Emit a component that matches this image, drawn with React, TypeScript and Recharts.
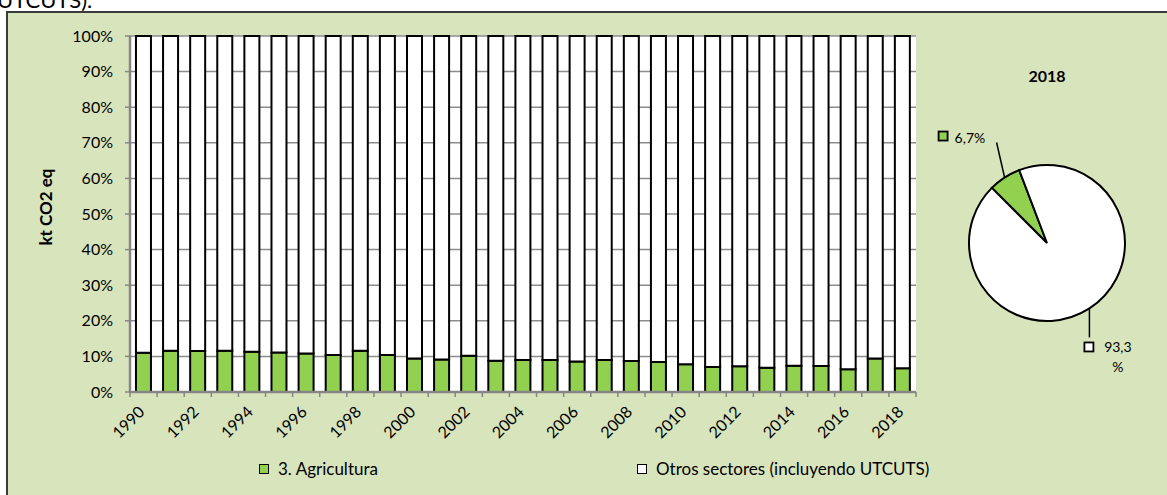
import React from "react"
import { Bar, BarChart, CartesianGrid, Pie, PieChart, Cell, XAxis, YAxis } from "recharts"

const years = [
  "1990", "1991", "1992", "1993", "1994", "1995", "1996", "1997", "1998", "1999",
  "2000", "2001", "2002", "2003", "2004", "2005", "2006", "2007", "2008", "2009",
  "2010", "2011", "2012", "2013", "2014", "2015", "2016", "2017", "2018",
]
const agricultura = [
  11.0, 11.6, 11.5, 11.6, 11.3, 11.1, 10.8, 10.4, 11.6, 10.4,
  9.4, 9.1, 10.2, 8.8, 9.0, 9.0, 8.6, 9.0, 8.7, 8.4,
  7.8, 7.0, 7.2, 6.8, 7.4, 7.3, 6.4, 9.4, 6.7,
]
const otros = [
  89.0, 88.4, 88.5, 88.4, 88.7, 88.9, 89.2, 89.6, 88.4, 89.6,
  90.6, 90.9, 89.8, 91.2, 91.0, 91.0, 91.4, 91.0, 91.3, 91.6,
  92.2, 93.0, 92.8, 93.2, 92.6, 92.7, 93.6, 90.6, 93.3,
]
const yTicks = [0, 10, 20, 30, 40, 50, 60, 70, 80, 90, 100]

const GREEN = "#92D050"
const BG = "#D8E4BC"
const FONT = "Lato, 'Open Sans', sans-serif"

const barData = years.map((y, i) => ({ year: y, agr: agricultura[i], otros: otros[i] }))
const last = years.length - 1
const pieData = [
  { name: "3. Agricultura", value: agricultura[last], color: GREEN },
  { name: "Otros sectores (incluyendo UTCUTS)", value: otros[last], color: "#FFFFFF" },
]

const PLOT_LEFT = 130
const PLOT_RIGHT = 916
const SLOT = (PLOT_RIGHT - PLOT_LEFT) / years.length

function XTick({ x, y, payload, index }: any) {
  return (
    <g>
      <line x1={x - SLOT / 2} x2={x - SLOT / 2} y1={y} y2={y + 5} stroke="#868686" strokeWidth={1.5} />
      {index === years.length - 1 && (
        <line x1={x + SLOT / 2} x2={x + SLOT / 2} y1={y} y2={y + 5} stroke="#868686" strokeWidth={1.5} />
      )}
      {index % 2 === 0 && (
        <text
          transform={`translate(${x + 2},${y + 21}) rotate(-45)`}
          textAnchor="end"
          fontSize={16}
          fontFamily={FONT}
          fill="#000"
        >
          {payload.value}
        </text>
      )}
    </g>
  )
}

const RAD = Math.PI / 180
const fmt = (v: number) => v.toFixed(1).replace(".", ",")

function PieLabel({ cx, cy, midAngle, outerRadius, index, value }: any) {
  const ex = cx + outerRadius * Math.cos(-midAngle * RAD)
  const ey = cy + outerRadius * Math.sin(-midAngle * RAD)
  if (index === 0) {
    return (
      <g fontFamily={FONT} fontSize={14}>
        <line x1={ex} y1={ey} x2={ex - 8} y2={ey - 35} stroke="#000" strokeWidth={1.5} />
        <rect x={ex - 66} y={ey - 46} width={9} height={9} fill={GREEN} stroke="#000" strokeWidth={1.8} />
        <text x={ex - 50} y={ey - 35} fill="#000">{fmt(value)}%</text>
      </g>
    )
  }
  return (
    <g fontFamily={FONT} fontSize={14}>
      <line x1={ex} y1={ey} x2={ex} y2={ey + 29} stroke="#000" strokeWidth={1.5} />
      <rect x={ex - 5} y={ey + 34} width={9} height={9} fill="#fff" stroke="#000" strokeWidth={1.8} />
      <text x={ex + 28.5} y={ey + 44} textAnchor="middle" fill="#000">{fmt(value)}</text>
      <text x={ex + 28.5} y={ey + 64} textAnchor="middle" fill="#000">%</text>
    </g>
  )
}

export default function App() {
  return (
    <div style={{ position: "relative", width: 1167, height: 495, overflow: "hidden", fontFamily: FONT }}>
      <style>{`body{margin:0;overflow:hidden}`}</style>
      <svg width={200} height={11} style={{ position: "absolute", left: 0, top: 0 }}>
        <text x={-3} y={8} fontSize={22} fontFamily={FONT} fill="#000">UTCUTS).</text>
      </svg>
      <div
        style={{
          position: "absolute",
          left: 6,
          top: 11,
          width: 1200,
          height: 500,
          background: BG,
          borderTop: "2px solid #3a3a3a",
          borderLeft: "2px solid #3a3a3a",
        }}
      />
      <div style={{ position: "absolute", left: 0, top: 0 }}>
        <BarChart
          width={1167}
          height={495}
          data={barData}
          barCategoryGap="22%"
          margin={{ top: 36, right: 1167 - PLOT_RIGHT, bottom: 43, left: PLOT_LEFT - 60 }}
        >
          <CartesianGrid vertical={false} fill="#fff" stroke="#8c8c8c" strokeWidth={1.5} />
          <XAxis
            dataKey="year"
            height={60}
            interval={0}
            tickLine={false}
            tickSize={0}
            tickMargin={0}
            axisLine={{ stroke: "#868686", strokeWidth: 2.5 }}
            tick={<XTick />}
          />
          <YAxis
            width={60}
            domain={[0, 100]}
            ticks={yTicks}
            tickFormatter={(v) => `${v}%`}
            tickSize={5}
            tickMargin={12}
            tickLine={{ stroke: "#868686", strokeWidth: 1.5 }}
            axisLine={{ stroke: "#868686", strokeWidth: 2.5 }}
            tick={{ fontSize: 16, fill: "#000", fontFamily: FONT }}
          />
          <Bar dataKey="agr" stackId="a" fill={GREEN} stroke="#000" strokeWidth={2} isAnimationActive={false} />
          <Bar dataKey="otros" stackId="a" fill="#fff" stroke="#000" strokeWidth={2} isAnimationActive={false} />
        </BarChart>
      </div>
      <div
        style={{
          position: "absolute",
          left: 45,
          top: 207,
          transform: "translate(-50%,-50%) rotate(-90deg)",
          fontSize: 17,
          fontWeight: "bold",
          whiteSpace: "nowrap",
        }}
      >
        kt CO2 eq
      </div>
      <div
        style={{
          position: "absolute",
          left: 1047,
          top: 75,
          transform: "translate(-50%,-50%)",
          fontSize: 16,
          fontWeight: "bold",
        }}
      >
        2018
      </div>
      <div style={{ position: "absolute", left: 927, top: 100 }}>
        <PieChart width={240} height={300} margin={{ top: 0, right: 0, bottom: 0, left: 0 }}>
          <Pie
            data={pieData}
            dataKey="value"
            cx={120}
            cy={143}
            outerRadius={78}
            startAngle={135}
            endAngle={-225}
            stroke="#000"
            strokeWidth={2}
            labelLine={false}
            label={PieLabel}
            isAnimationActive={false}
          >
            {pieData.map((d, i) => (
              <Cell key={i} fill={d.color} />
            ))}
          </Pie>
        </PieChart>
      </div>
      {pieData.map((d, i) => (
        <div
          key={d.name}
          style={{
            position: "absolute",
            left: i === 0 ? 259 : 637,
            top: 458,
            display: "flex",
            alignItems: "center",
            fontSize: 17,
            whiteSpace: "nowrap",
          }}
        >
          <span
            style={{
              display: "inline-block",
              width: 8,
              height: 8,
              background: d.color,
              border: "1.5px solid #000",
              marginRight: 9,
            }}
          />
          {d.name}
        </div>
      ))}
    </div>
  )
}
